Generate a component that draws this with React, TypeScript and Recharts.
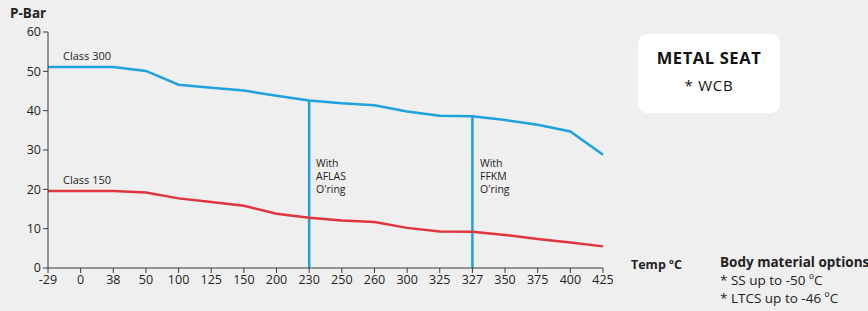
import React from "react";
import {
  LineChart,
  Line,
  XAxis,
  YAxis,
  ReferenceLine,
} from "recharts";

// Temperature categories (equally spaced on the axis)
const temps = ["-29", "0", "38", "50", "100", "125", "150", "200", "230", "250", "260", "300", "325", "327", "350", "375", "400", "425"];
// Pressure ratings in bar
const class300 = [51.1, 51.1, 51.1, 50.1, 46.6, 45.8, 45.1, 43.8, 42.6, 41.9, 41.4, 39.8, 38.7, 38.6, 37.6, 36.4, 34.7, 28.8];
const class150 = [19.6, 19.6, 19.6, 19.2, 17.7, 16.8, 15.8, 13.8, 12.8, 12.1, 11.7, 10.2, 9.3, 9.2, 8.4, 7.4, 6.5, 5.5];
const yTicks = [0, 10, 20, 30, 40, 50, 60];
// O'ring limits: temperature and top of the marker line
const oringTemps = ["230", "327"];
const oringTops = [42.6, 38.6];

const BLUE = "#1ca3de";
const RED = "#e0353f";
const AXIS = "#3a3a3a";
const FONT = "'Open Sans', sans-serif";

const data = temps.map((t, i) => ({ t, c300: class300[i], c150: class150[i] }));

const txt: React.CSSProperties = {
  position: "absolute",
  fontFamily: FONT,
  color: "#222",
  whiteSpace: "nowrap",
};

export default function App() {
  return (
    <div style={{ position: "absolute", left: 0, top: 0, width: 868, height: 311, background: "#efefef", overflow: "hidden" }}>
      <LineChart
        width={868}
        height={311}
        data={data}
        margin={{ top: 32, right: 265, bottom: 13, left: 0 }}
      >
        <XAxis
          dataKey="t"
          height={30}
          tick={{ fill: "#222", fontSize: 12.5, fontFamily: FONT }}
          tickLine={{ stroke: AXIS }}
          axisLine={{ stroke: AXIS }}
          tickSize={5}
          interval={0}
        />
        <YAxis
          width={48}
          domain={[0, 60]}
          ticks={yTicks}
          tick={{ fill: "#222", fontSize: 12.5, fontFamily: FONT }}
          tickLine={{ stroke: AXIS }}
          axisLine={{ stroke: AXIS }}
          tickSize={5}
        />
        {oringTemps.map((t, i) => (
          <ReferenceLine
            key={t}
            segment={[{ x: t, y: 0 }, { x: t, y: oringTops[i] }]}
            stroke={BLUE}
            strokeWidth={2.5}
          />
        ))}
        <Line type="linear" dataKey="c300" stroke={BLUE} strokeWidth={2.5} dot={false} isAnimationActive={false} />
        <Line type="linear" dataKey="c150" stroke={RED} strokeWidth={2.5} dot={false} isAnimationActive={false} />
      </LineChart>

      <div style={{ ...txt, left: 10, top: 4, fontSize: 13.5, fontWeight: 700, lineHeight: "18px" }}>P-Bar</div>
      <div style={{ ...txt, left: 63, top: 48, fontSize: 11 }}>Class 300</div>
      <div style={{ ...txt, left: 63, top: 172, fontSize: 11 }}>Class 150</div>
      <div style={{ ...txt, left: 316, top: 157, fontSize: 10.5, lineHeight: "13px" }}>
        With<br />AFLAS<br />O'ring
      </div>
      <div style={{ ...txt, left: 480, top: 157, fontSize: 10.5, lineHeight: "13px" }}>
        With<br />FFKM<br />O'ring
      </div>

      <div
        style={{
          position: "absolute",
          left: 638,
          top: 34,
          width: 142,
          height: 79,
          background: "#fff",
          borderRadius: 9,
          fontFamily: FONT,
          textAlign: "center",
          color: "#111",
        }}
      >
        <div style={{ marginTop: 12, fontSize: 16.5, fontWeight: 700, letterSpacing: 0.6 }}>METAL SEAT</div>
        <div style={{ marginTop: 6, fontSize: 15, letterSpacing: 0.8 }}>* WCB</div>
      </div>

      <div style={{ ...txt, left: 631, top: 256, fontSize: 12.5, fontWeight: 700 }}>Temp ºC</div>
      <div style={{ ...txt, left: 720, top: 253, fontSize: 13.5, fontWeight: 700, lineHeight: "18px" }}>
        Body material options
        <div style={{ fontWeight: 400 }}>* SS up to -50 ºC</div>
        <div style={{ fontWeight: 400 }}>* LTCS up to -46 ºC</div>
      </div>
    </div>
  );
}
